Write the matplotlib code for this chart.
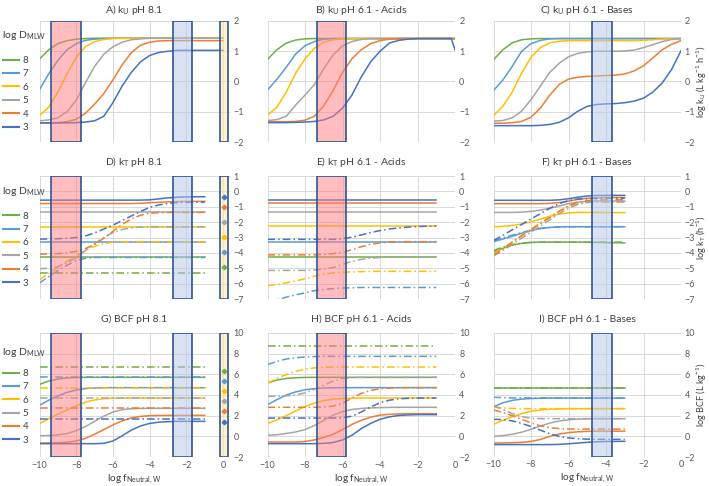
import matplotlib.pyplot as plt

plt.rcParams['font.family'] = ['Lato', 'DejaVu Sans']
plt.rcParams['mathtext.default'] = 'regular'

# legend order: log D_MLW 8 ... 3
d_labels = ['8', '7', '6', '5', '4', '3']
colors = ['#70AD47', '#5B9BD5', '#FFC000', '#A5A5A5', '#ED7D31', '#4472C4']

titles = ['A) k$_U$ pH 8.1', 'B) k$_U$ pH 6.1 - Acids', 'C) k$_U$ pH 6.1 - Bases',
          'D) k$_T$ pH 8.1', 'E) k$_T$ pH 6.1 - Acids', 'F) k$_T$ pH 6.1 - Bases',
          'G) BCF pH 8.1', 'H) BCF pH 6.1 - Acids', 'I) BCF pH 6.1 - Bases']
right_labels = ['log k$_U$ (L kg$^{-1}$ h$^{-1}$)', 'log k$_T$ (h$^{-1}$)', 'log BCF (L kg$^{-1}$)']

# x grids (log f_Neutral,W)
x_a = [-10, -9.5, -9, -8.5, -8, -7.5, -7, -6.5, -6, -5.5, -5, -4.5, -4, -3.5, -3, -2.5, -2, -1.5, -1, -0.5, 0]
x_b = [-10, -9.5, -9, -8.5, -8, -7.5, -7, -6.5, -6, -5.5, -5, -4.5, -4, -3.5, -3, -2.5, -2, -1.5, -1, -0.5, -0.2, 0]
x_d = [-10, -9.5, -9, -8.5, -8, -7.5, -7, -6.5, -6, -5.5, -5, -4.5, -4, -3.5, -3, -2.5, -2, -1.5, -1]
x_f = [-10, -9.5, -9, -8.5, -8, -7.5, -7, -6.5, -6, -5.5, -5, -4.5, -4, -3.5, -3]

# A) kU pH 8.1
a_solid = [
    [0.74, 1.05, 1.25, 1.35, 1.40, 1.42, 1.43, 1.43, 1.43, 1.43, 1.43, 1.43, 1.43, 1.43, 1.43, 1.43, 1.43, 1.43, 1.43, 1.43, 1.43],
    [-0.27, 0.25, 0.70, 1.05, 1.25, 1.36, 1.40, 1.42, 1.43, 1.43, 1.43, 1.43, 1.43, 1.43, 1.43, 1.43, 1.43, 1.43, 1.43, 1.43, 1.43],
    [-1.12, -0.85, -0.35, 0.25, 0.80, 1.15, 1.32, 1.39, 1.42, 1.43, 1.43, 1.43, 1.43, 1.43, 1.43, 1.43, 1.43, 1.43, 1.43, 1.43, 1.43],
    [-1.30, -1.27, -1.20, -1.00, -0.62, -0.05, 0.50, 0.90, 1.15, 1.30, 1.38, 1.41, 1.43, 1.43, 1.43, 1.43, 1.43, 1.43, 1.43, 1.43, 1.43],
    [-1.37, -1.37, -1.36, -1.33, -1.25, -1.05, -0.75, -0.40, 0.05, 0.55, 0.95, 1.20, 1.30, 1.34, 1.35, 1.35, 1.35, 1.35, 1.35, 1.35, 1.35],
    [-1.37, -1.37, -1.37, -1.37, -1.36, -1.34, -1.30, -1.15, -0.70, -0.15, 0.30, 0.65, 0.86, 0.96, 1.00, 1.03, 1.03, 1.03, 1.03, 1.03, 1.03],
]

# B) kU pH 6.1 - Acids
b_solid = [
    [0.73, 1.05, 1.27, 1.37, 1.41, 1.42, 1.42, 1.42, 1.42, 1.42, 1.42, 1.42, 1.42, 1.42, 1.42, 1.42, 1.42, 1.42, 1.42, 1.42, 1.42, 1.42],
    [-0.28, 0.07, 0.47, 0.91, 1.18, 1.32, 1.40, 1.42, 1.42, 1.42, 1.42, 1.42, 1.42, 1.42, 1.42, 1.42, 1.42, 1.42, 1.42, 1.42, 1.42, 1.42],
    [-1.11, -0.85, -0.35, 0.27, 0.75, 1.10, 1.30, 1.38, 1.42, 1.42, 1.42, 1.42, 1.42, 1.42, 1.42, 1.42, 1.42, 1.42, 1.42, 1.42, 1.42, 1.42],
    [-1.29, -1.26, -1.15, -0.78, -0.45, -0.10, 0.42, 0.88, 1.18, 1.32, 1.39, 1.42, 1.42, 1.42, 1.42, 1.42, 1.42, 1.42, 1.42, 1.42, 1.42, 1.42],
    [-1.33, -1.33, -1.33, -1.32, -1.28, -1.15, -0.80, -0.30, 0.30, 0.75, 1.05, 1.25, 1.35, 1.40, 1.42, 1.42, 1.42, 1.42, 1.42, 1.42, 1.42, 1.42],
    [-1.36, -1.36, -1.36, -1.35, -1.34, -1.32, -1.27, -1.15, -0.88, -0.45, 0.15, 0.65, 1.00, 1.27, 1.36, 1.40, 1.42, 1.42, 1.42, 1.42, 1.42, 1.05],
]

# C) kU pH 6.1 - Bases
c_solid = [
    [0.72, 1.05, 1.28, 1.38, 1.41, 1.42, 1.42, 1.42, 1.42, 1.42, 1.42, 1.42, 1.42, 1.42, 1.42, 1.42, 1.42, 1.42, 1.42, 1.42, 1.42],
    [-0.30, 0.05, 0.50, 1.00, 1.25, 1.36, 1.41, 1.42, 1.42, 1.42, 1.42, 1.42, 1.42, 1.42, 1.42, 1.42, 1.42, 1.42, 1.42, 1.42, 1.42],
    [-1.13, -0.82, -0.35, 0.28, 0.80, 1.12, 1.28, 1.33, 1.35, 1.35, 1.35, 1.35, 1.35, 1.35, 1.35, 1.35, 1.36, 1.38, 1.40, 1.41, 1.42],
    [-1.31, -1.29, -1.20, -0.98, -0.60, -0.15, 0.30, 0.60, 0.82, 0.93, 0.98, 1.00, 1.00, 1.00, 1.01, 1.04, 1.12, 1.22, 1.32, 1.39, 1.42],
    [-1.38, -1.38, -1.36, -1.32, -1.18, -0.88, -0.45, -0.10, 0.08, 0.14, 0.17, 0.18, 0.20, 0.21, 0.25, 0.35, 0.52, 0.78, 1.05, 1.23, 1.35],
    [-1.46, -1.46, -1.46, -1.46, -1.46, -1.45, -1.42, -1.35, -1.20, -0.98, -0.82, -0.76, -0.74, -0.73, -0.70, -0.65, -0.55, -0.35, -0.05, 0.40, 1.02],
]

# D) kT pH 8.1
d_solid = [
    [-4.28] * 19,
    [-3.27] * 19,
    [-2.30] * 19,
    [-1.36] * 19,
    [-0.79, -0.79, -0.79, -0.79, -0.79, -0.79, -0.79, -0.79, -0.79, -0.79, -0.79, -0.77, -0.74, -0.71, -0.68, -0.66, -0.65, -0.65, -0.65],
    [-0.57, -0.57, -0.57, -0.57, -0.57, -0.57, -0.57, -0.57, -0.57, -0.57, -0.57, -0.57, -0.55, -0.49, -0.42, -0.38, -0.36, -0.35, -0.35],
]
d_dash = [
    [-5.30] * 19,
    [-5.96, -5.55, -5.15, -4.80, -4.50, -4.35, -4.30, -4.30, -4.30, -4.30, -4.30, -4.30, -4.30, -4.30, -4.30, -4.30, -4.30, -4.30, -4.30],
    [-5.75, -5.35, -4.95, -4.55, -4.20, -3.85, -3.57, -3.40, -3.30, -3.28, -3.27, -3.27, -3.27, -3.27, -3.27, -3.27, -3.27, -3.27, -3.27],
    [-5.03, -5.00, -4.90, -4.65, -4.30, -3.85, -3.40, -3.00, -2.68, -2.48, -2.37, -2.32, -2.30, -2.30, -2.30, -2.30, -2.30, -2.30, -2.30],
    [-4.08, -4.07, -4.05, -4.00, -3.90, -3.72, -3.45, -3.05, -2.60, -2.15, -1.80, -1.55, -1.42, -1.38, -1.37, -1.37, -1.37, -1.37, -1.37],
    [-3.10, -3.10, -3.08, -3.05, -3.00, -2.90, -2.70, -2.45, -2.20, -1.90, -1.60, -1.30, -1.05, -0.88, -0.78, -0.73, -0.71, -0.70, -0.70],
]
d_marks = [-4.93, -3.96, -2.94, -1.97, -1.00, -0.36]

# E) kT pH 6.1 - Acids
e_solid = [
    [-4.28] * 19,
    [-3.27] * 19,
    [-2.28] * 19,
    [-1.37] * 19,
    [-0.77] * 19,
    [-0.57] * 19,
]
e_dash = [
    None,
    [-7.30, -7.05, -6.88, -6.73, -6.60, -6.46, -6.38, -6.32, -6.29, -6.27, -6.25, -6.25, -6.25, -6.25, -6.25, -6.25, -6.25, -6.25, -6.25],
    [-6.13, -6.05, -5.95, -5.83, -5.68, -5.52, -5.38, -5.30, -5.26, -5.24, -5.22, -5.20, -5.20, -5.20, -5.20, -5.20, -5.20, -5.20, -5.20],
    [-5.14, -5.14, -5.14, -5.14, -5.14, -5.12, -5.05, -4.95, -4.75, -4.55, -4.42, -4.35, -4.30, -4.28, -4.28, -4.28, -4.28, -4.28, -4.28],
    [-4.13, -4.13, -4.13, -4.13, -4.13, -4.13, -4.10, -4.05, -3.95, -3.80, -3.60, -3.45, -3.35, -3.30, -3.27, -3.27, -3.27, -3.27, -3.27],
    [-3.12, -3.12, -3.12, -3.12, -3.12, -3.12, -3.12, -3.12, -3.08, -2.98, -2.83, -2.68, -2.55, -2.45, -2.38, -2.32, -2.29, -2.26, -2.25],
]

# F) kT pH 6.1 - Bases
f_solid = [
    [-3.95, -3.70, -3.50, -3.38, -3.32, -3.30, -3.30, -3.30, -3.30, -3.30, -3.31, -3.32, -3.33, -3.34, -3.35],
    [-3.27, -3.10, -2.92, -2.72, -2.55, -2.42, -2.35, -2.31, -2.30, -2.30, -2.30, -2.30, -2.30, -2.30, -2.30],
    [-2.30, -2.28, -2.22, -2.12, -1.98, -1.80, -1.62, -1.48, -1.40, -1.37, -1.37, -1.37, -1.38, -1.38, -1.38],
    [-1.37, -1.37, -1.37, -1.35, -1.30, -1.22, -1.10, -0.95, -0.80, -0.70, -0.65, -0.63, -0.63, -0.63, -0.63],
    [-0.80, -0.80, -0.80, -0.80, -0.80, -0.80, -0.78, -0.73, -0.63, -0.52, -0.45, -0.42, -0.40, -0.40, -0.40],
    [-0.58, -0.58, -0.58, -0.58, -0.58, -0.58, -0.58, -0.55, -0.48, -0.38, -0.30, -0.27, -0.26, -0.26, -0.26],
]
f_dash = [
    [-3.85, -3.62, -3.45, -3.36, -3.32, -3.30, -3.30, -3.30, -3.30, -3.30, -3.30, -3.30, -3.30, -3.30, -3.30],
    [-3.20, -3.02, -2.85, -2.68, -2.52, -2.40, -2.34, -2.31, -2.30, -2.30, -2.30, -2.30, -2.30, -2.30, -2.30],
    [-4.05, -3.70, -3.30, -2.85, -2.45, -2.05, -1.65, -1.30, -1.00, -0.80, -0.72, -0.70, -0.70, -0.70, -0.70],
    [-4.20, -3.85, -3.45, -3.05, -2.65, -2.25, -1.85, -1.45, -1.10, -0.85, -0.72, -0.68, -0.67, -0.67, -0.67],
    [-4.15, -3.75, -3.30, -2.90, -2.50, -2.10, -1.70, -1.30, -0.95, -0.70, -0.60, -0.56, -0.55, -0.55, -0.55],
    [-3.20, -2.85, -2.50, -2.15, -1.80, -1.45, -1.10, -0.80, -0.60, -0.50, -0.47, -0.45, -0.45, -0.45, -0.45],
]

# G) BCF pH 8.1
g_solid = [
    [5.03, 5.35, 5.55, 5.65, 5.70, 5.71, 5.71, 5.71, 5.71, 5.71, 5.71, 5.71, 5.71, 5.71, 5.71, 5.71, 5.71, 5.71, 5.71],
    [3.00, 3.50, 3.90, 4.25, 4.48, 4.62, 4.68, 4.70, 4.71, 4.71, 4.71, 4.71, 4.71, 4.71, 4.71, 4.71, 4.71, 4.71, 4.71],
    [1.23, 1.70, 2.15, 2.55, 2.95, 3.30, 3.52, 3.64, 3.69, 3.71, 3.71, 3.71, 3.71, 3.71, 3.71, 3.71, 3.71, 3.71, 3.71],
    [0.06, 0.08, 0.15, 0.27, 0.55, 0.95, 1.45, 1.95, 2.35, 2.58, 2.67, 2.70, 2.71, 2.71, 2.71, 2.71, 2.71, 2.71, 2.71],
    [-0.65, -0.64, -0.62, -0.57, -0.45, -0.20, 0.20, 0.65, 1.10, 1.50, 1.78, 1.93, 2.00, 2.02, 2.03, 2.03, 2.03, 2.03, 2.03],
    [-0.71, -0.71, -0.71, -0.71, -0.71, -0.71, -0.71, -0.68, -0.45, 0.05, 0.60, 1.00, 1.25, 1.37, 1.42, 1.45, 1.45, 1.45, 1.45],
]
g_dash = [
    [6.71] * 19,
    [5.71] * 19,
    [4.71] * 19,
    [3.71] * 19,
    [2.71] * 19,
    [1.71] * 19,
]
g_marks = [6.32, 5.35, 4.39, 3.42, 2.42, 1.42]

# H) BCF pH 6.1 - Acids
h_solid = [
    [5.16, 5.45, 5.60, 5.67, 5.70, 5.71, 5.71, 5.71, 5.71, 5.71, 5.71, 5.71, 5.71, 5.71, 5.71, 5.71, 5.71, 5.71, 5.71],
    [3.06, 3.55, 4.00, 4.30, 4.50, 4.62, 4.68, 4.70, 4.71, 4.71, 4.71, 4.71, 4.71, 4.71, 4.71, 4.71, 4.71, 4.71, 4.71],
    [1.23, 1.60, 2.00, 2.45, 2.88, 3.22, 3.45, 3.60, 3.66, 3.70, 3.71, 3.71, 3.71, 3.71, 3.71, 3.71, 3.71, 3.71, 3.71],
    [0.10, 0.15, 0.28, 0.42, 0.65, 1.05, 1.55, 2.05, 2.40, 2.60, 2.70, 2.75, 2.78, 2.80, 2.81, 2.81, 2.81, 2.81, 2.81],
    [-0.55, -0.55, -0.55, -0.55, -0.50, -0.35, -0.10, 0.20, 0.65, 1.15, 1.55, 1.85, 2.05, 2.13, 2.17, 2.19, 2.19, 2.19, 2.19],
    [-0.71, -0.71, -0.71, -0.71, -0.71, -0.71, -0.68, -0.60, -0.35, 0.10, 0.75, 1.25, 1.65, 1.88, 2.02, 2.07, 2.10, 2.10, 2.10],
]
h_dash = [
    [8.71] * 19,
    [6.94, 7.25, 7.48, 7.60, 7.68, 7.72, 7.74, 7.74, 7.74, 7.74, 7.74, 7.74, 7.74, 7.74, 7.74, 7.74, 7.74, 7.74, 7.74],
    [5.16, 5.60, 5.98, 6.28, 6.50, 6.62, 6.68, 6.71, 6.71, 6.71, 6.71, 6.71, 6.71, 6.71, 6.71, 6.71, 6.71, 6.71, 6.71],
    [3.87, 3.88, 3.92, 4.00, 4.20, 4.55, 4.95, 5.35, 5.60, 5.68, 5.71, 5.71, 5.71, 5.71, 5.71, 5.71, 5.71, 5.71, 5.71],
    [2.81, 2.81, 2.81, 2.81, 2.81, 2.81, 2.84, 2.92, 3.20, 3.70, 4.15, 4.45, 4.60, 4.67, 4.70, 4.71, 4.71, 4.71, 4.71],
    [1.77, 1.77, 1.77, 1.77, 1.77, 1.77, 1.77, 1.77, 1.80, 1.95, 2.35, 2.85, 3.25, 3.50, 3.63, 3.68, 3.71, 3.71, 3.71],
]

# I) BCF pH 6.1 - Bases
i_solid = [
    [4.65] * 15,
    [2.85, 3.25, 3.48, 3.60, 3.66, 3.68, 3.70, 3.70, 3.70, 3.70, 3.70, 3.70, 3.70, 3.70, 3.70],
    [1.16, 1.55, 1.90, 2.20, 2.42, 2.55, 2.62, 2.66, 2.68, 2.68, 2.68, 2.68, 2.68, 2.68, 2.68],
    [0.00, 0.07, 0.20, 0.40, 0.68, 1.00, 1.28, 1.48, 1.60, 1.67, 1.70, 1.71, 1.71, 1.71, 1.71],
    [-0.65, -0.64, -0.62, -0.58, -0.50, -0.30, 0.00, 0.22, 0.36, 0.44, 0.48, 0.50, 0.50, 0.50, 0.50],
    [-0.80, -0.80, -0.80, -0.80, -0.80, -0.80, -0.80, -0.78, -0.72, -0.65, -0.58, -0.53, -0.50, -0.49, -0.48],
]
i_dash = [
    [4.72] * 15,
    [3.78, 3.74, 3.72, 3.72, 3.72, 3.72, 3.72, 3.72, 3.72, 3.72, 3.72, 3.72, 3.72, 3.72, 3.72],
    [2.85, 2.75, 2.70, 2.68, 2.68, 2.68, 2.68, 2.68, 2.68, 2.68, 2.68, 2.68, 2.68, 2.68, 2.68],
    [2.95, 2.60, 2.20, 1.90, 1.75, 1.72, 1.71, 1.71, 1.71, 1.71, 1.71, 1.71, 1.71, 1.71, 1.71],
    [2.55, 2.30, 2.00, 1.65, 1.30, 1.02, 0.84, 0.75, 0.71, 0.70, 0.70, 0.70, 0.70, 0.70, 0.70],
    [1.65, 1.62, 1.50, 1.25, 0.95, 0.60, 0.25, 0.00, -0.15, -0.23, -0.27, -0.29, -0.29, -0.29, -0.29],
]

# highlighted log f ranges
pink_81 = (-9.4, -7.75)
blue_81 = (-2.75, -1.72)
yellow_81 = (-0.15, 0.25)
pink_acid = (-7.38, -5.8)
blue_base = (-4.73, -3.68)
mark_x = 0.05

panels = [
    (x_a, a_solid, None, [pink_81, blue_81, yellow_81], None),
    (x_b, b_solid, None, [pink_acid], None),
    (x_a, c_solid, None, [blue_base], None),
    (x_d, d_solid, d_dash, [pink_81, blue_81, yellow_81], d_marks),
    (x_d, e_solid, e_dash, [pink_acid], None),
    (x_f, f_solid, f_dash, [blue_base], None),
    (x_d, g_solid, g_dash, [pink_81, blue_81, yellow_81], g_marks),
    (x_d, h_solid, h_dash, [pink_acid], None),
    (x_f, i_solid, i_dash, [blue_base], None),
]
span_fill = {pink_81: (1, 0.49, 0.5, 0.5), pink_acid: (1, 0.49, 0.5, 0.5),
             blue_81: (0.71, 0.78, 0.91, 0.5), blue_base: (0.71, 0.78, 0.91, 0.5),
             yellow_81: (1, 0.9, 0.6, 0.5)}

W, H = 709, 486
fig = plt.figure(figsize=(W / 100, H / 100), dpi=100)
col_px = [(39.5, 229.5), (267.5, 455.0), (493.5, 681.0)]
row_px = [(21, 142), (176, 299), (333, 457)]
col_xlim = [(-10, 0.35), (-10, 0), (-10, 0)]
row_ylim = [(-2, 2), (-7, 1), (-2, 10)]
row_yticks = [[-2, -1, 0, 1, 2], [-7, -6, -5, -4, -3, -2, -1, 0, 1], [-2, 0, 2, 4, 6, 8, 10]]
title_pad = [5.5, 8, 8]
legend_title_y = [0.884, 0.878, 0.841]
dashdot = (0, (5, 2, 1, 2))

for k, (x, solid, dash, spans, marks) in enumerate(panels):
    r, c = divmod(k, 3)
    l, rt = col_px[c]
    t, b = row_px[r]
    ax = fig.add_axes([l / W, 1 - b / H, (rt - l) / W, (b - t) / H])

    handles = []
    for j in range(6):
        if dash is not None and dash[j] is not None:
            ax.plot(x, dash[j], color=colors[j], lw=1.1, ls=dashdot, zorder=2)
        ln, = ax.plot(x, solid[j], color=colors[j], lw=1.1, zorder=2)
        handles.append(ln)
        if marks is not None:
            ax.plot(mark_x, marks[j], marker='D', ms=2.3, color=colors[j], zorder=5)

    for sp in spans:
        ax.axvspan(sp[0], sp[1], facecolor=span_fill[sp], edgecolor='#2F5597', lw=1.2, zorder=4)

    ax.set_xlim(col_xlim[c])
    ax.set_ylim(row_ylim[r])
    ax.set_yticks(row_yticks[r])
    ax.set_xticks([-10, -8, -6, -4, -2, 0])
    ax.yaxis.tick_right()
    ax.tick_params(length=0, labelsize=6.5, colors='#595959', pad=2.5 if c == 2 else 3)
    ax.grid(True, color='#D9D9D9', lw=0.7)
    ax.set_axisbelow(True)
    for s in ax.spines.values():
        s.set_visible(False)
    ax.set_title(titles[k], fontsize=7.5, color='#404040', pad=title_pad[r])

    if r == 2:
        ax.set_xlabel('log f$_{Neutral,W}$', fontsize=7.2, color='#404040', labelpad=2)
    else:
        ax.tick_params(labelbottom=False)

    if c == 2:
        ax.yaxis.set_label_position('right')
        ax.set_ylabel(right_labels[r], fontsize=6.6, color='#404040', va='center', ha='center')
        ax.yaxis.set_label_coords((701.5 - l) / (rt - l), 0.5)

    if c == 0:
        ax.text(-0.197, legend_title_y[r], 'log D$_{MLW}$', transform=ax.transAxes,
                fontsize=7.5, color='#404040', va='center', ha='left')
        ax.legend(handles, d_labels, loc='upper left', bbox_to_anchor=(-0.192, 0.71),
                  frameon=False, fontsize=7, handlelength=1.6, handletextpad=0.4,
                  labelspacing=0.45, borderpad=0, borderaxespad=0, labelcolor='#404040')
        for lh in ax.get_legend().get_lines():
            lh.set_linewidth(1.5)

fig.savefig('out.png', dpi=100)
